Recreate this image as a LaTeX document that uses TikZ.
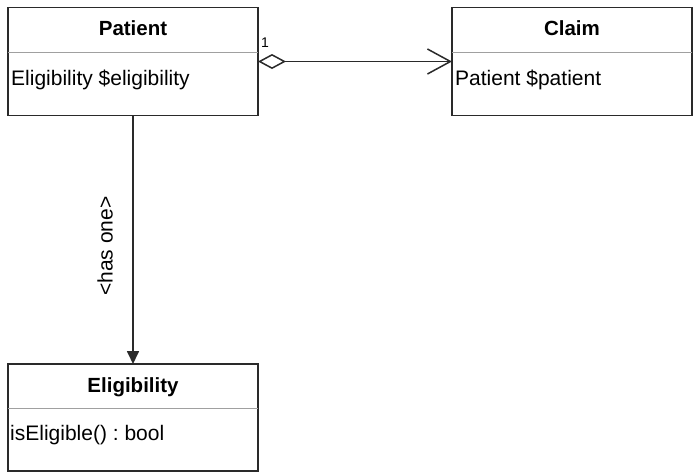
\documentclass[tikz,border=0pt]{standalone}
\usepackage{fontspec}
\setmainfont{Liberation Sans}
\usetikzlibrary{arrows.meta}
\definecolor{edge}{HTML}{2A2A2A}
\definecolor{sep}{HTML}{A0A0A0}
\frenchspacing
\begin{document}
\begin{tikzpicture}[x=1pt,y=-1pt,
  classbox/.style={draw=edge, line width=1.8pt, anchor=north west, minimum width=250pt, minimum height=108pt, inner sep=0pt, outer sep=0pt},
  title/.style={font=\fontsize{20.5}{24}\selectfont\bfseries, anchor=base, inner sep=0pt},
  member/.style={font=\fontsize{21}{24}\selectfont, anchor=base west, inner sep=0pt},
  divider/.style={draw=sep, line width=0.9pt},
  conn/.style={draw=edge, line width=1.7pt}]
\useasboundingbox (0,0) rectangle (693,472);
% boxes
\node[classbox] (patient) at (8,7.5) {};
\node[classbox, minimum width=240pt] (claim) at (452,7.5) {};
\node[classbox, minimum height=107pt] (elig) at (8,364) {};
% dividers
\draw[divider] ([yshift=-44.5pt]patient.north west) -- ([yshift=-44.5pt]patient.north east);
\draw[divider] ([yshift=-44.5pt]claim.north west) -- ([yshift=-44.5pt]claim.north east);
\draw[divider] ([yshift=-44.5pt]elig.north west) -- ([yshift=-44.5pt]elig.north east);
% titles
\node[title] (pt) at (133,35.5) {Patient};
\node[title] (ct) at (572,35.5) {Claim};
\node[title] (et) at (133,392) {Eligibility};
% members
\node[member] (pm) at (11,85) {Eligibility \$eligibility};
\node[member] (cm) at (455,85) {Patient \$patient};
\node[member] (em) at (10,440) {isEligible() : bool};
% connectors
\draw[conn, {Diamond[open, fill=white, length=28pt, width=15pt, line width=1.5pt]}-{Straight Barb[length=23pt, width=25pt, line width=1.5pt]}]
  (patient.east) -- (claim.west);
\node[font=\fontsize{14}{16}\selectfont, inner sep=0pt] (one) at (265,42.5) {1};
\draw[conn, -{Triangle[length=13pt, width=12pt]}] (patient.south) -- (elig.north);
\node[font=\fontsize{21}{24}\selectfont, rotate=90, inner sep=0pt] (hasone) at (105,246) {\textless has one\textgreater};
\end{tikzpicture}
\end{document}
